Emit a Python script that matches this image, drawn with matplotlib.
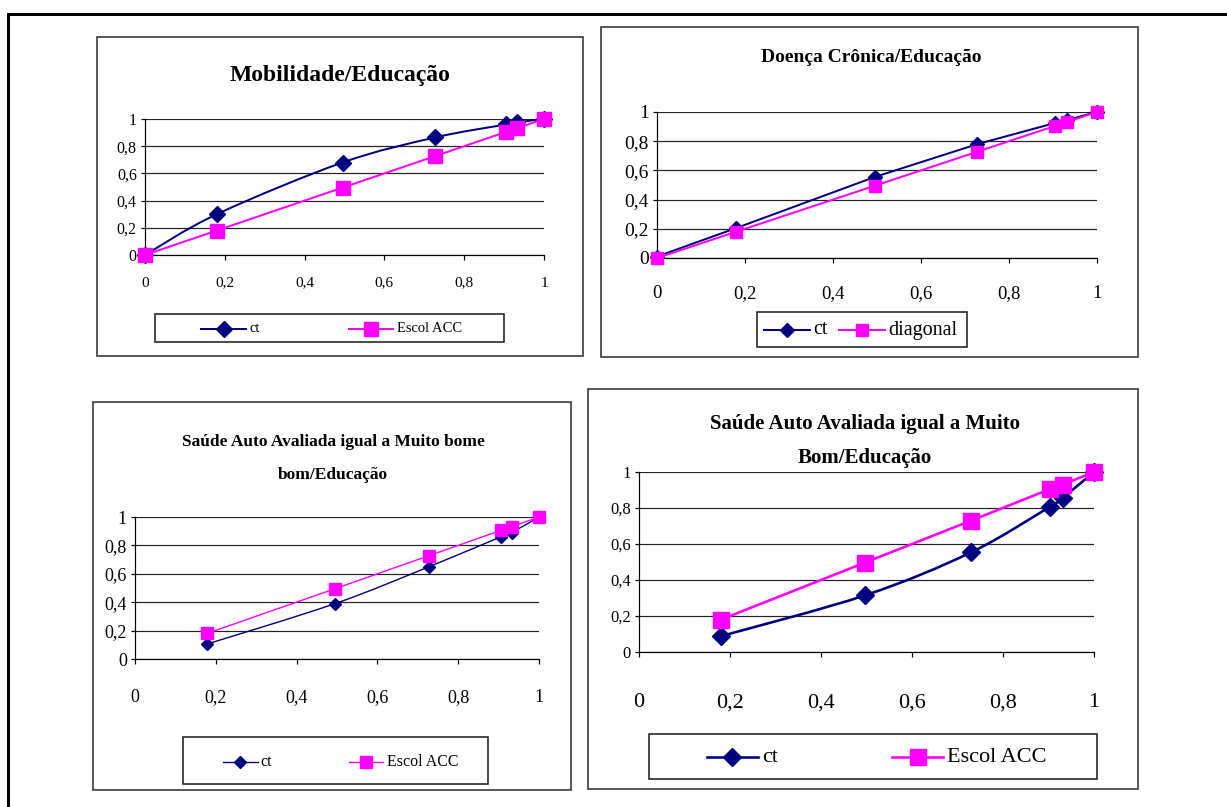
import numpy as np
import matplotlib
matplotlib.use('Agg')
import matplotlib.pyplot as plt
from matplotlib.patches import Rectangle, PathPatch
from matplotlib.path import Path
from matplotlib.lines import Line2D

# ---------------- data ----------------
x_mob = [0.0, 0.18, 0.495, 0.728, 0.905, 0.932, 1.0]
ct_mob = [0.0, 0.30, 0.68, 0.865, 0.96, 0.975, 1.0]
acc_mob = [0.0, 0.18, 0.495, 0.728, 0.905, 0.932, 1.0]

x_doe = [0.0, 0.18, 0.495, 0.728, 0.905, 0.932, 1.0]
ct_doe = [0.01, 0.205, 0.555, 0.78, 0.925, 0.945, 1.0]
diag_doe = [0.0, 0.18, 0.495, 0.728, 0.905, 0.932, 1.0]

x_sa1 = [0.178, 0.495, 0.728, 0.905, 0.932, 1.0]
ct_sa1 = [0.105, 0.39, 0.65, 0.86, 0.89, 1.0]
acc_sa1 = [0.18, 0.495, 0.728, 0.905, 0.932, 1.0]

x_sa2 = [0.18, 0.497, 0.73, 0.903, 0.931, 1.0]
ct_sa2 = [0.088, 0.315, 0.554, 0.807, 0.856, 1.0]
acc_sa2 = [0.18, 0.497, 0.73, 0.905, 0.93, 1.0]

ticks = [0, 0.2, 0.4, 0.6, 0.8, 1.0]
tick_labels = ['0', '0,2', '0,4', '0,6', '0,8', '1']

titles = [["Mobilidade/Educação"],
          ["Doença Crônica/Educação"],
          ["Saúde Auto Avaliada igual a Muito bome", "bom/Educação"],
          ["Saúde Auto Avaliada igual a Muito", "Bom/Educação"]]
legend_names = [["ct", "Escol ACC"], ["ct", "diagonal"],
                ["ct", "Escol ACC"], ["ct", "Escol ACC"]]

# ---------------- figure ----------------
W, H, DPI = 1227, 807, 100
FONT = 'Liberation Serif'
NAVY = '#000080'
MAG = '#FF00FF'
PX = 72.0 / DPI  # points per pixel

fig = plt.figure(figsize=(W / DPI, H / DPI), dpi=DPI)
fig.patch.set_facecolor('white')


def fx(x):
    return x / W


def fy(y):
    return 1 - y / H


def rect_px(x0, y0, x1, y1, lw, color, z=0):
    r = Rectangle((fx(x0), fy(y1)), fx(x1) - fx(x0), fy(y0) - fy(y1),
                  transform=fig.transFigure, fill=False, lw=lw,
                  edgecolor=color, zorder=z)
    fig.add_artist(r)


def smooth_path(xs, ys):
    pts = np.column_stack([xs, ys]).astype(float)
    n = len(pts)
    verts = [pts[0]]
    codes = [Path.MOVETO]
    for i in range(n - 1):
        p0 = pts[i - 1] if i > 0 else pts[i]
        p1 = pts[i]
        p2 = pts[i + 1]
        p3 = pts[i + 2] if i + 2 < n else pts[i + 1]
        c1 = p1 + (p2 - p0) / 6.0
        c2 = p2 - (p3 - p1) / 6.0
        verts += [c1, c2, p2]
        codes += [Path.CURVE4] * 3
    return Path(verts, codes)


# outer border
rect_px(8, 14, 1300, 900, 3 * PX, 'black')

panels = [
    dict(frame=(97, 37, 583, 356), ax=(145, 119, 544, 255),
         xs=x_mob, ct=ct_mob, pk=acc_mob, smooth=True,
         title_size=17, title_xy=(340, [75]),
         xtick_size=11, ytick_size=11.5, xpad=12,
         lw=2.0, dsz=8, ssz=9.5,
         leg=(155, 314, 504, 342), leg_items=[(201, 246, 249), (349, 393, 397)],
         leg_y=329, leg_size=10.5),
    dict(frame=(601, 27, 1138, 357), ax=(657, 112, 1097, 258),
         xs=x_doe, ct=ct_doe, pk=diag_doe, smooth=False,
         title_size=14, title_xy=(871, [58]),
         xtick_size=13.5, ytick_size=14, xpad=16,
         lw=2.0, dsz=7.5, ssz=9,
         leg=(757, 312, 967, 347), leg_items=[(764, 810, 813), (839, 885, 888)],
         leg_y=330, leg_size=14.5),
    dict(frame=(93, 402, 571, 790), ax=(135, 517, 539, 659),
         xs=x_sa1, ct=ct_sa1, pk=acc_sa1, smooth=True,
         title_size=12.5, title_xy=(333, [442, 475]),
         xtick_size=13, ytick_size=13, xpad=18,
         lw=1.4, dsz=6.5, ssz=8,
         leg=(183, 737, 488, 784), leg_items=[(223, 258, 260), (349, 383, 387)],
         leg_y=762, leg_size=11.5),
    dict(frame=(588, 389, 1138, 789), ax=(639, 472, 1094, 652),
         xs=x_sa2, ct=ct_sa2, pk=acc_sa2, smooth=True,
         title_size=15, title_xy=(865, [424, 458]),
         xtick_size=16, ytick_size=12, xpad=26,
         lw=2.6, dsz=9.5, ssz=11,
         leg=(649, 734, 1097, 779), leg_items=[(707, 758, 762), (892, 943, 947)],
         leg_y=757, leg_size=16),
]

for i, p in enumerate(panels):
    # panel frame
    x0, y0, x1, y1 = p['frame']
    rect_px(x0, y0, x1, y1, 1.6 * PX, '#333333')

    # axes
    ax0, ay1, ax1, ay0 = p['ax']
    ax = fig.add_axes([fx(ax0), fy(ay0), fx(ax1) - fx(ax0), fy(ay1) - fy(ay0) * 0 - fy(ay0) + fy(ay0) - fy(ay0) + 0 if False else (fy(ay1) - fy(ay0))])
    ax.set_xlim(0, 1)
    ax.set_ylim(0, 1)
    ax.patch.set_alpha(0)
    for s in ['top', 'right']:
        ax.spines[s].set_visible(False)
    for s in ['left', 'bottom']:
        ax.spines[s].set_linewidth(1.2 * PX)
        ax.spines[s].set_color('black')
    ax.set_xticks(ticks)
    ax.set_yticks(ticks)
    ax.set_xticklabels(tick_labels, fontfamily=FONT, fontsize=p['xtick_size'])
    ax.set_yticklabels(tick_labels, fontfamily=FONT, fontsize=p['ytick_size'])
    ax.tick_params(axis='x', direction='out', length=5 * PX, width=1.2 * PX,
                   pad=p['xpad'], colors='black')
    ax.tick_params(axis='y', direction='out', length=4 * PX, width=1.2 * PX,
                   pad=3, colors='black')
    ax.yaxis.grid(True, color='#222222', lw=1.2 * PX)
    ax.set_axisbelow(True)

    # ct series
    if p['smooth']:
        patch = PathPatch(smooth_path(p['xs'], p['ct']), fill=False,
                          edgecolor=NAVY, lw=p['lw'] * PX, zorder=3,
                          clip_on=False)
        ax.add_patch(patch)
    else:
        ax.plot(p['xs'], p['ct'], color=NAVY, lw=p['lw'] * PX, zorder=3,
                clip_on=False)
    ax.plot(p['xs'], p['ct'], linestyle='none', marker='D', color=NAVY,
            markersize=p['dsz'], zorder=4, clip_on=False)
    # pink series
    ax.plot(p['xs'], p['pk'], color=MAG, lw=p['lw'] * PX, zorder=5,
            clip_on=False)
    ax.plot(p['xs'], p['pk'], linestyle='none', marker='s', color=MAG,
            markersize=p['ssz'], zorder=6, clip_on=False)

    # title
    tx, tys = p['title_xy']
    for line, ty in zip(titles[i], tys):
        fig.text(fx(tx), fy(ty), line, ha='center', va='center',
                 fontfamily=FONT, fontweight='bold', fontsize=p['title_size'])

    # legend
    lx0, ly0, lx1, ly1 = p['leg']
    rect_px(lx0, ly0, lx1, ly1, 1.6 * PX, '#222222')
    ly = p['leg_y']
    for (a, b, t), name, col, mk, msz in zip(
            p['leg_items'], legend_names[i], [NAVY, MAG], ['D', 's'],
            [p['dsz'], p['ssz']]):
        fig.add_artist(Line2D([fx(a), fx(b)], [fy(ly), fy(ly)],
                              transform=fig.transFigure, color=col,
                              lw=p['lw'] * PX))
        fig.add_artist(Line2D([fx((a + b) / 2)], [fy(ly)],
                              transform=fig.transFigure, color=col,
                              marker=mk, markersize=msz, linestyle='none'))
        fig.text(fx(t), fy(ly), name, ha='left', va='center',
                 fontfamily=FONT, fontsize=p['leg_size'])

fig.savefig('out.png', dpi=DPI, facecolor='white')
